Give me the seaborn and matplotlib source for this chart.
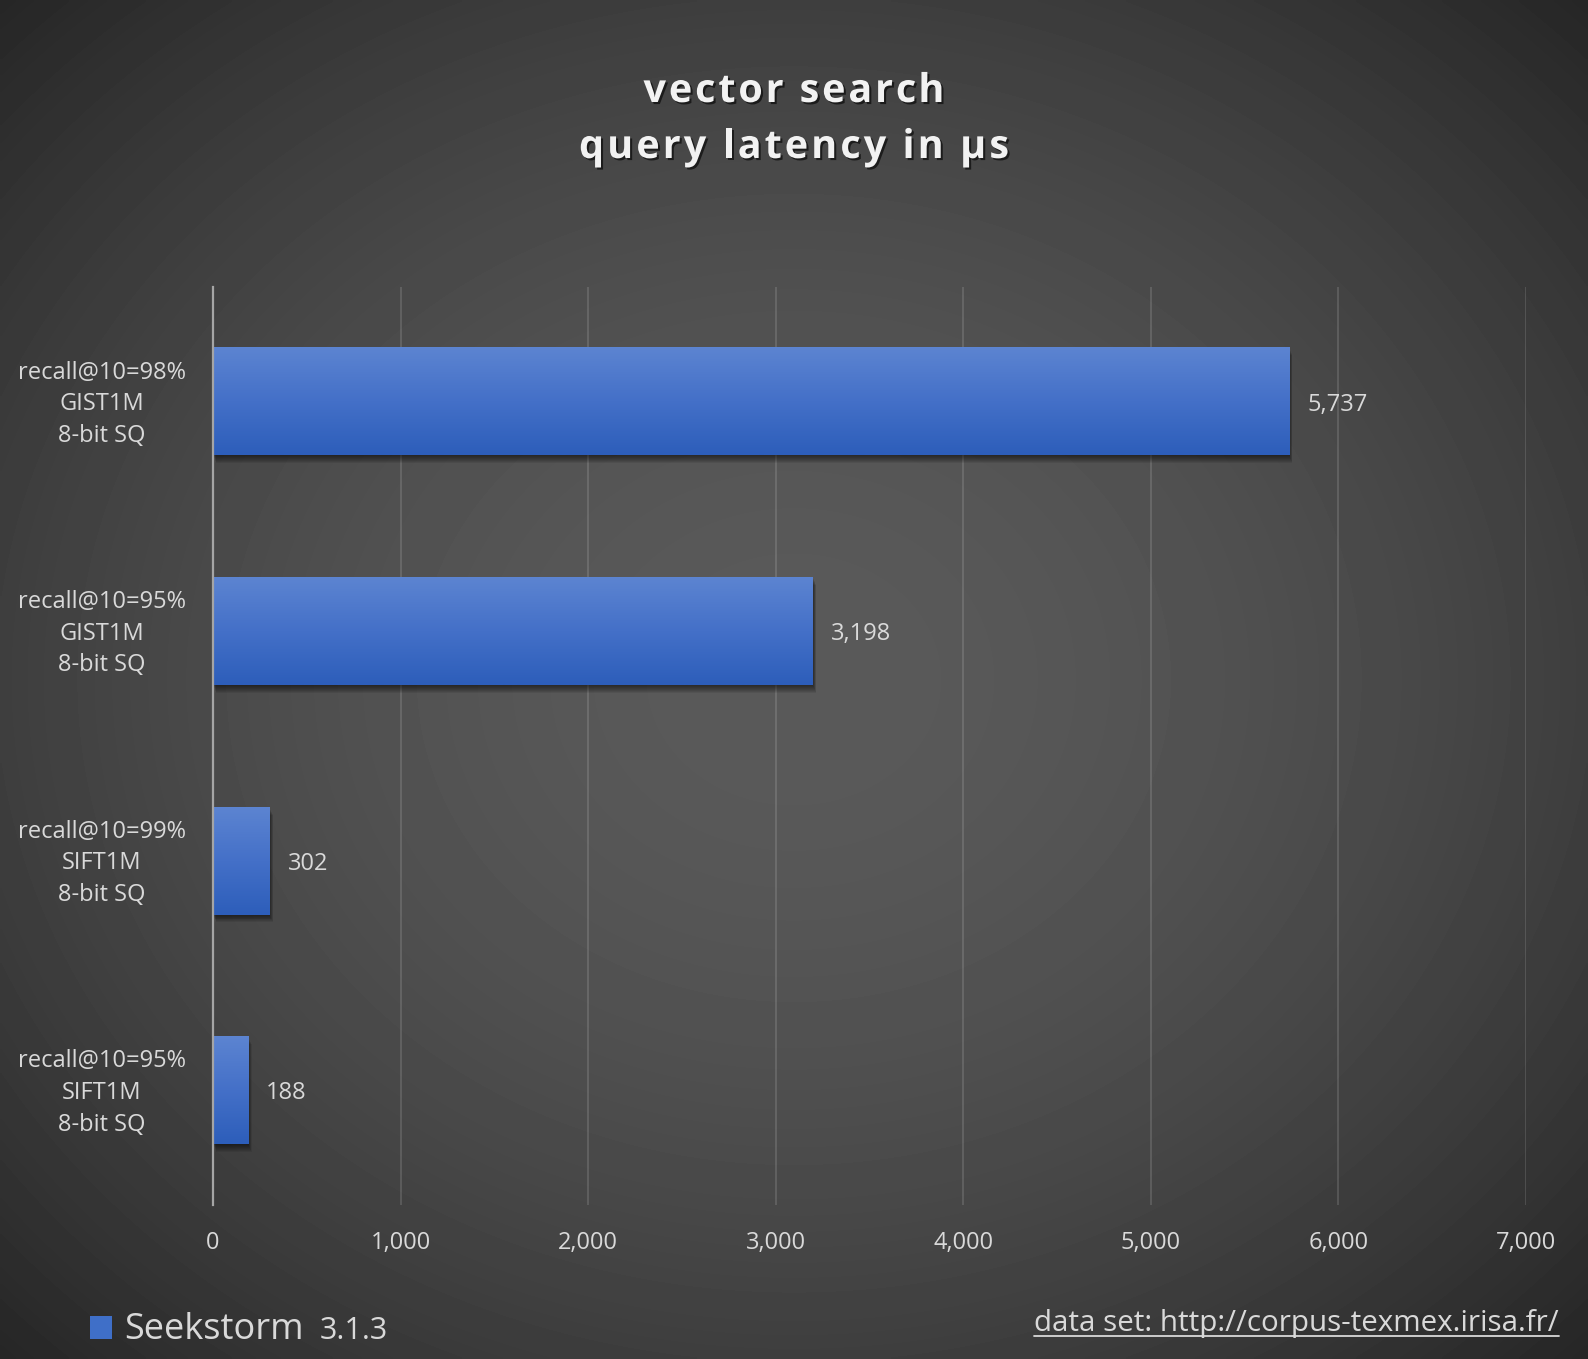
import numpy as np
import pandas as pd
import matplotlib
matplotlib.use("Agg")
import matplotlib.pyplot as plt
import matplotlib.patheffects as pe
import matplotlib.transforms as mtransforms
from matplotlib.colors import LinearSegmentedColormap
from matplotlib.patches import Rectangle
from matplotlib.lines import Line2D
import seaborn as sns

# chart data
configs = [
    "recall@10=98%\nGIST1M\n8-bit SQ",
    "recall@10=95%\nGIST1M\n8-bit SQ",
    "recall@10=99%\nSIFT1M\n8-bit SQ",
    "recall@10=95%\nSIFT1M\n8-bit SQ",
]
latency_us = [5737, 3198, 302, 188]
x_ticks = [0, 1000, 2000, 3000, 4000, 5000, 6000, 7000]
title_lines = ["vector search", "query latency in µs"]

TEXT = "#d9d9d9"
BAR = "#3f6fc8"

sns.set_theme(style="white")
plt.rcParams["font.family"] = ["Open Sans", "DejaVu Sans"]


def draw_background(fig):
    # radial dark-grey vignette behind everything
    bg = fig.add_axes([0, 0, 1, 1], zorder=-10)
    bg.axis("off")
    yy, xx = np.mgrid[0:1:400j, 0:1:460j]
    r = np.hypot((xx - 0.5) / 0.5, (yy - 0.5) / 0.5) / np.sqrt(2)
    val = (90 - 52 * np.clip(r, 0, 1) ** 1.8) / 255
    bg.imshow(val, cmap="gray", vmin=0, vmax=1, extent=(0, 1, 0, 1),
              aspect="auto", interpolation="bilinear")


def spaced_text(fig, s, xc_px, base_px, width_px, **kw):
    # draw a line of text with extra letter spacing, centred at xc_px
    ren = fig.canvas.get_renderer()
    W, H = fig.get_size_inches() * fig.dpi

    def w(txt):
        t = fig.text(0, 0, txt, **kw)
        out = t.get_window_extent(ren).width
        t.remove()
        return out

    wl = w("l")
    lefts = [0.0] + [w(s[:i] + "l") - wl for i in range(1, len(s))]
    natural = w(s)
    sp = (width_px - natural) / (len(s) - 1)
    x0 = xc_px - width_px / 2
    for i, ch in enumerate(s):
        if ch == " ":
            continue
        fig.text((x0 + lefts[i] + i * sp) / W, base_px / H, ch, ha="left",
                 va="baseline", **kw)


def main():
    df = pd.DataFrame({"config": configs, "latency": latency_us})

    fig = plt.figure(figsize=(15.88, 13.59), dpi=100)
    W, H = fig.get_size_inches() * fig.dpi
    draw_background(fig)

    ax = fig.add_axes([0.1341, 0.1133, 0.961 - 0.1341, 0.789 - 0.1133])
    ax.set_facecolor("none")

    sns.barplot(data=df, x="latency", y="config", orient="h", width=0.47,
                color=BAR, saturation=1, edgecolor="none", linewidth=0,
                ax=ax, zorder=3)

    # gradient fill + soft drop shadow on each bar
    cmap = LinearSegmentedColormap.from_list("bar", ["#5c84d1", "#4470c8", "#2d5eba"])
    grad = np.linspace(0, 1, 100).reshape(-1, 1)
    for p in ax.patches:
        x0, y0, w, h = p.get_x(), p.get_y(), p.get_width(), p.get_height()
        p.set_path_effects(
            [pe.SimplePatchShadow(offset=(0.3 * k, -0.7 * k), shadow_rgbFace="black", alpha=0.08)
             for k in range(1, 9)] + [pe.Normal()])
        ax.imshow(grad, cmap=cmap, extent=(x0, x0 + w, y0 + h, y0), origin="upper",
                  aspect="auto", zorder=4, interpolation="bilinear")

    labels = ax.bar_label(ax.containers[0], labels=[f"{v:,}" for v in latency_us],
                          padding=13, color=TEXT, fontsize=17)
    for t in labels:
        dx, dy = t.xyann
        t.xyann = (dx, dy - 2.2)

    ax.set_xlim(0, 7000)
    ax.set_ylim(3.5, -0.5)
    ax.set_xticks(x_ticks)
    ax.set_xticklabels([f"{t:,}" for t in x_ticks])
    ax.set_xlabel("")
    ax.set_ylabel("")

    ax.grid(axis="x", color="white", alpha=0.13, linewidth=1.5)
    ax.grid(axis="y", visible=False)
    ax.set_axisbelow(True)
    for side in ["top", "right", "bottom"]:
        ax.spines[side].set_visible(False)
    ax.spines["left"].set_color("#a5a5a5")
    ax.spines["left"].set_linewidth(1.6)
    ax.spines["left"].set_zorder(5)

    ax.tick_params(axis="x", length=0, pad=19, labelsize=17, labelcolor=TEXT)
    ax.tick_params(axis="y", length=0, pad=80, labelsize=17, labelcolor=TEXT)
    up = mtransforms.ScaledTranslation(0, 4 / 100, fig.dpi_scale_trans)
    for lbl in ax.get_yticklabels():
        lbl.set_ha("center")
        lbl.set_multialignment("center")
        lbl.set_linespacing(1.42)
        lbl.set_va("center_baseline")
    for tk in ax.yaxis.get_major_ticks():
        tk.label1.set_transform(tk.label1.get_transform() + up)

    # title with letter spacing and a soft shadow
    fig.canvas.draw()
    shadow = [pe.SimplePatchShadow(offset=(1.5, -1.5), shadow_rgbFace="black", alpha=0.6),
              pe.Normal()]
    title_kw = dict(fontsize=28.5, fontweight="bold", color="#f2f2f2", path_effects=shadow)
    spaced_text(fig, title_lines[0], W / 2, H - 102, 301, **title_kw)
    spaced_text(fig, title_lines[1], W / 2, H - 158, 430, **title_kw)

    # legend
    fig.add_artist(Rectangle((0.0567, 0.0147), 0.0139, 0.0169, transform=fig.transFigure,
                             facecolor=BAR, edgecolor="none"))
    fig.text(0.0781, 0.0147, "Seekstorm", fontsize=26, color=TEXT, va="baseline")
    fig.text(0.2015, 0.0147, "3.1.3", fontsize=22, color=TEXT, va="baseline")

    # data source, underlined
    src = fig.text(0.9817, 0.0206, "data set: http://corpus-texmex.irisa.fr/", ha="right",
                   va="baseline", fontsize=21.3, color=TEXT)
    fig.canvas.draw()
    bb = src.get_window_extent()
    uy = 0.0206 - 5 / H
    fig.add_artist(Line2D([bb.x0 / W, bb.x1 / W], [uy, uy], transform=fig.transFigure,
                          color=TEXT, linewidth=1.3))

    fig.savefig("out.png", dpi=100)
    plt.close(fig)


if __name__ == "__main__":
    main()
